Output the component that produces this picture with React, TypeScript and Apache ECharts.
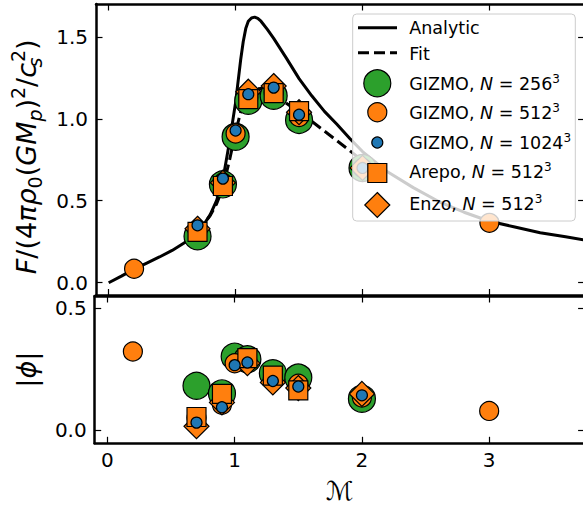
import { useEffect, useRef } from "react";
import * as echarts from "echarts";

// Tick positions
const machTicks = [0, 1, 2, 3];
const forceTicks = [0, 0.5, 1.0, 1.5];
const phiTicks = [0, 0.5];

// Analytic drag force curve
const analyticMach = [0, 0.1, 0.2, 0.3, 0.4, 0.5, 0.6, 0.7, 0.75, 0.8, 0.85, 0.9, 0.95, 1.0, 1.04, 1.06, 1.08, 1.1, 1.125, 1.15, 1.175, 1.2, 1.25, 1.3, 1.4, 1.5, 1.6, 1.7, 1.8, 1.9, 2.0, 2.2, 2.4, 2.6, 2.8, 3.0, 3.2, 3.4, 3.6, 3.75];
const analyticForce = [0, 0.04, 0.083, 0.12, 0.157, 0.197, 0.245, 0.31, 0.355, 0.415, 0.5, 0.63, 0.85, 1.1, 1.36, 1.47, 1.55, 1.595, 1.615, 1.62, 1.612, 1.595, 1.545, 1.49, 1.37, 1.245, 1.14, 1.045, 0.965, 0.88, 0.8, 0.675, 0.58, 0.495, 0.43, 0.375, 0.34, 0.305, 0.28, 0.26];

// Fitted curve
const fitMach = [0.7, 0.8, 0.85, 0.9, 0.95, 1.0, 1.05, 1.1, 1.15, 1.2, 1.3, 1.4, 1.5, 1.6, 1.7, 1.8, 1.9, 2.0];
const fitForce = [0.31, 0.41, 0.48, 0.58, 0.74, 0.92, 1.07, 1.15, 1.18, 1.185, 1.15, 1.095, 1.04, 0.985, 0.925, 0.865, 0.805, 0.745];

// GIZMO, N = 256^3
const gizmo256Mach = [0.7, 0.9, 1.0, 1.1, 1.3, 1.5, 2.0];
const gizmo256Force = [0.283, 0.6, 0.89, 1.11, 1.14, 0.993, 0.7];
const gizmo256Phi = [0.181, 0.15, 0.301, 0.29, 0.233, 0.215, 0.128];

// GIZMO, N = 512^3
const gizmo512Mach = [0.2, 0.7, 0.9, 1.0, 1.1, 1.3, 1.5, 2.0, 3.0];
const gizmo512Force = [0.085, 0.32, 0.61, 0.91, 1.13, 1.16, 1.01, 0.7, 0.365];
const gizmo512Phi = [0.322, 0.05, 0.103, 0.274, 0.28, 0.21, 0.19, 0.133, 0.078];

// GIZMO, N = 1024^3
const gizmo1024Mach = [0.7, 0.9, 1.0, 1.1, 1.3, 1.5, 2.0];
const gizmo1024Force = [0.35, 0.635, 0.928, 1.15, 1.19, 1.025, 0.7];
const gizmo1024Phi = [0.03, 0.093, 0.266, 0.277, 0.201, 0.178, 0.142];

// Arepo, N = 512^3
const arepoMach = [0.7, 0.9, 1.1, 1.3, 1.5];
const arepoForce = [0.31, 0.59, 1.12, 1.156, 1.047];
const arepoPhi = [0.053, 0.148, 0.295, 0.223, 0.162];

// Enzo, N = 512^3
const enzoMach = [0.7, 0.9, 1.1, 1.3, 1.5, 2.0];
const enzoForce = [0.329, 0.61, 1.165, 1.2, 1.04, 0.7];
const enzoPhi = [0.015, 0.113, 0.274, 0.195, 0.172, 0.148];

const FONT = "DejaVu Sans";
const GREEN = "#2ca02c";
const ORANGE = "#ff7f0e";
const BLUE = "#1f77b4";

const pairs = (xs: number[], ys: number[]) => xs.map((x, i) => [x, ys[i]]);

const spine = { show: true, onZero: false, lineStyle: { color: "#000", width: 2.5 } };
const ticksIn = (vals: number[]) => ({
  show: true,
  inside: true,
  length: 6.5,
  customValues: vals,
  lineStyle: { color: "#000", width: 1.2 },
});
const noLabel = { show: false };
const tickLabel = (vals: number[], fmt: (v: number) => string, margin: number) => ({
  show: true,
  customValues: vals,
  formatter: fmt,
  fontFamily: FONT,
  fontSize: 20,
  color: "#000",
  margin,
});

const mathStyles = (size: number, small: number, lh: number) => ({
  n: { fontFamily: FONT, fontSize: size, lineHeight: lh, verticalAlign: "middle", color: "#000" },
  i: { fontFamily: FONT, fontSize: size, lineHeight: lh, verticalAlign: "middle", fontStyle: "italic", color: "#000" },
  sp: { fontFamily: FONT, fontSize: small, lineHeight: small, verticalAlign: "top", color: "#000" },
  sb: { fontFamily: FONT, fontSize: small, lineHeight: small, verticalAlign: "bottom", fontStyle: "italic", color: "#000" },
  sbn: { fontFamily: FONT, fontSize: small, lineHeight: small, verticalAlign: "bottom", color: "#000" },
  sbs: { fontFamily: FONT, fontSize: small, lineHeight: small, verticalAlign: "bottom", fontStyle: "italic", color: "#000", width: 1 },
});

const scatter = (
  name: string,
  xs: number[],
  ys: number[],
  panel: number,
  symbol: string,
  size: number,
  color: string,
  z: number
) => ({
  type: "scatter",
  name,
  xAxisIndex: panel * 2,
  yAxisIndex: panel * 2,
  data: pairs(xs, ys),
  symbol,
  symbolSize: size,
  itemStyle: { color, borderColor: "#000", borderWidth: 1.2, opacity: 1 },
  z,
  silent: true,
});

// Legend entries
const legendLeft = 352.7;
const legendTop = 14;
const legendSymX = 377.3;
const legendTextX = 409.3;
const legendRich = mathStyles(17.5, 12, 22);

const legendLabel = (y: number, text: string) => ({
  type: "text",
  z: 101,
  x: legendTextX,
  y: y + 1,
  style: {
    text,
    align: "left",
    verticalAlign: "middle",
    fontFamily: FONT,
    fontSize: 17.5,
    fill: "#000",
    rich: legendRich,
  },
});

const legendGraphics = [
  {
    type: "rect",
    z: 100,
    shape: { x: legendLeft, y: legendTop, width: 222.6, height: 207, r: 4 },
    style: { fill: "rgba(255,255,255,0.8)", stroke: "#cccccc", lineWidth: 1 },
  },
  { type: "line", z: 101, shape: { x1: 358, y1: 27.8, x2: 397, y2: 27.8 }, style: { stroke: "#000", lineWidth: 3 } },
  legendLabel(27.3, "{n|Analytic}"),
  {
    type: "line",
    z: 101,
    shape: { x1: 358, y1: 52.8, x2: 397, y2: 52.8 },
    style: { stroke: "#000", lineWidth: 3, lineDash: [11, 5] },
  },
  legendLabel(53, "{n|Fit}"),
  {
    type: "circle",
    z: 101,
    shape: { cx: legendSymX, cy: 83.3, r: 13.5 },
    style: { fill: GREEN, stroke: "#000", lineWidth: 1.2 },
  },
  legendLabel(82.5, "{n|GIZMO, }{i|N}{n| = 256}{sp|3}"),
  {
    type: "circle",
    z: 101,
    shape: { cx: legendSymX, cy: 112.3, r: 9.5 },
    style: { fill: ORANGE, stroke: "#000", lineWidth: 1.2 },
  },
  legendLabel(112, "{n|GIZMO, }{i|N}{n| = 512}{sp|3}"),
  {
    type: "circle",
    z: 101,
    shape: { cx: legendSymX, cy: 142.5, r: 5.5 },
    style: { fill: BLUE, stroke: "#000", lineWidth: 1.2 },
  },
  legendLabel(141.7, "{n|GIZMO, }{i|N}{n| = 1024}{sp|3}"),
  {
    type: "rect",
    z: 101,
    shape: { x: legendSymX - 9.5, y: 173 - 9.5, width: 19, height: 19 },
    style: { fill: ORANGE, stroke: "#000", lineWidth: 1.2 },
  },
  legendLabel(170.5, "{n|Arepo, }{i|N}{n| = 512}{sp|3}"),
  {
    type: "polygon",
    z: 101,
    shape: {
      points: [
        [legendSymX, 205 - 12.5],
        [legendSymX + 12.5, 205],
        [legendSymX, 205 + 12.5],
        [legendSymX - 12.5, 205],
      ],
    },
    style: { fill: ORANGE, stroke: "#000", lineWidth: 1.2 },
  },
  legendLabel(203.3, "{n|Enzo, }{i|N}{n| = 512}{sp|3}"),
];

export default function App() {
  const ref = useRef<HTMLDivElement>(null);

  useEffect(() => {
    if (!ref.current) return;
    const chart = echarts.init(ref.current, undefined, { renderer: "svg" });

    const grids = [
      { left: 94, top: 4, width: 490.6, height: 291.5 },
      { left: 94, top: 296, width: 490.6, height: 147.3 },
    ];

    const xBase = { type: "value", min: -0.1, max: 3.75, axisLine: spine, splitLine: { show: false } };
    const yTop = { type: "value", min: -0.078, max: 1.7, axisLine: spine, splitLine: { show: false } };
    const yBottom = { type: "value", min: -0.055, max: 0.55, axisLine: spine, splitLine: { show: false } };

    const option = {
      animation: false,
      backgroundColor: "#ffffff",
      grid: grids,
      xAxis: [
        { ...xBase, gridIndex: 0, position: "bottom", axisTick: ticksIn(machTicks), axisLabel: noLabel },
        { ...xBase, gridIndex: 0, position: "top", axisTick: ticksIn(machTicks), axisLabel: noLabel },
        {
          ...xBase,
          gridIndex: 1,
          position: "bottom",
          axisTick: ticksIn(machTicks),
          axisLabel: tickLabel(machTicks, (v: number) => String(v), 7),
          name: "ℳ",
          nameLocation: "middle",
          nameGap: 35,
          nameTextStyle: { fontFamily: FONT, fontSize: 26, color: "#000", fontStyle: "italic" },
        },
        { ...xBase, gridIndex: 1, position: "top", axisTick: ticksIn(machTicks), axisLabel: noLabel },
      ],
      yAxis: [
        {
          ...yTop,
          gridIndex: 0,
          position: "left",
          axisTick: ticksIn(forceTicks),
          axisLabel: tickLabel(forceTicks, (v: number) => v.toFixed(1), 8),
          name: "{i|F}{n|/(4}{i|πρ}{sbn|0}{n|(}{i|GM}{sb|p}{n|)}{sp|2}{n|/}{i|c}{sbs|s}{sp|2}{n|)}",
          nameLocation: "middle",
          nameRotate: 90,
          nameGap: 52,
          nameTextStyle: {
            fontFamily: FONT,
            fontSize: 27,
            lineHeight: 36,
            color: "#000",
            padding: [0, 14, 0, 0],
            rich: mathStyles(27, 19, 36),
          },
        },
        { ...yTop, gridIndex: 0, position: "right", axisTick: ticksIn(forceTicks), axisLabel: noLabel },
        {
          ...yBottom,
          gridIndex: 1,
          position: "left",
          axisTick: ticksIn(phiTicks),
          axisLabel: tickLabel(phiTicks, (v: number) => v.toFixed(1), 8),
          name: "{n||}{i|ϕ}{n||}",
          nameLocation: "middle",
          nameRotate: 90,
          nameGap: 50,
          nameTextStyle: {
            fontFamily: FONT,
            fontSize: 27,
            lineHeight: 36,
            color: "#000",
            rich: mathStyles(27, 19, 36),
          },
        },
        { ...yBottom, gridIndex: 1, position: "right", axisTick: ticksIn(phiTicks), axisLabel: noLabel },
      ],
      series: [
        {
          type: "line",
          name: "Analytic",
          xAxisIndex: 0,
          yAxisIndex: 0,
          data: pairs(analyticMach, analyticForce),
          showSymbol: false,
          symbol: "none",
          lineStyle: { color: "#000", width: 3 },
          z: 2,
          silent: true,
        },
        {
          type: "line",
          name: "Fit",
          xAxisIndex: 0,
          yAxisIndex: 0,
          data: pairs(fitMach, fitForce),
          showSymbol: false,
          symbol: "none",
          lineStyle: { color: "#000", width: 3, type: [11, 5] },
          z: 2,
          silent: true,
        },
        scatter("GIZMO 256", gizmo256Mach, gizmo256Force, 0, "circle", 27, GREEN, 3),
        scatter("GIZMO 512", gizmo512Mach, gizmo512Force, 0, "circle", 19, ORANGE, 4),
        scatter("Enzo", enzoMach, enzoForce, 0, "diamond", 25, ORANGE, 5),
        scatter("Arepo", arepoMach, arepoForce, 0, "rect", 19, ORANGE, 6),
        scatter("GIZMO 1024", gizmo1024Mach, gizmo1024Force, 0, "circle", 11, BLUE, 7),
        scatter("GIZMO 256", gizmo256Mach, gizmo256Phi, 1, "circle", 27, GREEN, 3),
        scatter("GIZMO 512", gizmo512Mach, gizmo512Phi, 1, "circle", 19, ORANGE, 4),
        scatter("Enzo", enzoMach, enzoPhi, 1, "diamond", 25, ORANGE, 5),
        scatter("Arepo", arepoMach, arepoPhi, 1, "rect", 19, ORANGE, 6),
        scatter("GIZMO 1024", gizmo1024Mach, gizmo1024Phi, 1, "circle", 11, BLUE, 7),
      ],
      graphic: legendGraphics,
    };

    chart.setOption(option as any);
    return () => chart.dispose();
  }, []);

  return (
    <div style={{ position: "fixed", left: 0, top: 0, width: 583, height: 510, overflow: "hidden", background: "#fff" }}>
      <div ref={ref} style={{ width: 600, height: 510 }} />
    </div>
  );
}
